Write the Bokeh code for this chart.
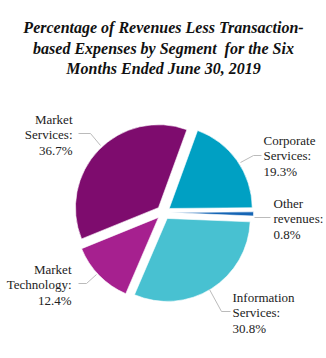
import math
from bokeh.plotting import figure
from bokeh.models import Range1d, ColumnDataSource
from bokeh.core.properties import value
from bokeh.embed import file_html
from bokeh.resources import INLINE

# ---- data ----
categories = ["Corporate\nServices:", "Other\nrevenues:", "Information\nServices:",
              "Market\nTechnology:", "Market\nServices:"]
values = [19.3, 0.8, 30.8, 12.4, 36.7]
colors = ["#00A0C3", "#1565B5", "#48C1D1", "#A6208F", "#7E0C6E"]
title_lines = ["Percentage of Revenues Less Transaction-",
               "based Expenses by Segment\u00a0 for the Six",
               "Months Ended June 30, 2019"]

W, H = 326, 358
def Y(py):
    return H - py

p = figure(width=W, height=H, output_backend="svg", toolbar_location=None,
           x_range=Range1d(0, W), y_range=Range1d(0, H), min_border=0)
p.axis.visible = False
p.grid.visible = False
p.outline_line_color = None
p.background_fill_color = "white"

# ---- pie ----
cx, cy, r, explode = 163, Y(212), 83, 7
start = 70.0
total = sum(values)
xs, ys, sa, ea = [], [], [], []
a = start
for v in values:
    span = v / total * 360.0
    mid = math.radians(a - span / 2)
    xs.append(cx + explode * math.cos(mid))
    ys.append(cy + explode * math.sin(mid))
    sa.append(math.radians(a))
    ea.append(math.radians(a - span))
    a -= span

src = ColumnDataSource(dict(x=xs, y=ys, sa=sa, ea=ea, color=colors))
p.wedge(x="x", y="y", radius=r, start_angle="sa", end_angle="ea",
        direction="clock", fill_color="color", line_color="white",
        line_width=0.6, source=src)

# ---- labels ----
label_pos = [  # x, y(center of middle line), align
    (263, 155, "left"),
    (273, 218, "left"),
    (232, 312, "left"),
    (71, 284, "right"),
    (72, 134, "right"),
]
lx_all, ly_all, lt_all, la_all = [], [], [], []
for name, v, (lx, ly, al) in zip(categories, values, label_pos):
    lines = name.split("\n") + [f"{v}%"]
    for i, t in enumerate(lines):
        lx_all.append(lx)
        ly_all.append(Y(ly + (i - 1) * 15.5))
        lt_all.append(t)
        la_all.append(al)
p.text(x="x", y="y", text="t", text_align="a",
       source=ColumnDataSource(dict(x=lx_all, y=ly_all, t=lt_all, a=la_all)),
       text_font=value("Liberation Serif"), text_font_size="13px",
       text_color="#222222", text_baseline="middle")

# ---- leader lines ----
leaders = [
    [(240, 162), (253, 155), (261, 155)],
    [(254, 217), (270, 217)],
    [(209, 289), (221, 311), (230, 311)],
    [(78, 283), (86, 283), (96, 274)],
    [(78, 133), (90, 133), (100, 145)],
]
p.multi_line(xs=[[pt[0] for pt in l] for l in leaders],
             ys=[[Y(pt[1]) for pt in l] for l in leaders],
             line_color="#BBBBBB", line_width=1)

# ---- title ----
title_y = [27, 48, 68]
p.text(x=[163] * 3, y=[Y(t) for t in title_y], text=title_lines,
       text_font=value("Liberation Serif"), text_font_size="16px",
       text_font_style="bold italic", text_color="#111111",
       text_align="center", text_baseline="middle")

open("out.html", "w").write(file_html(p, INLINE))
